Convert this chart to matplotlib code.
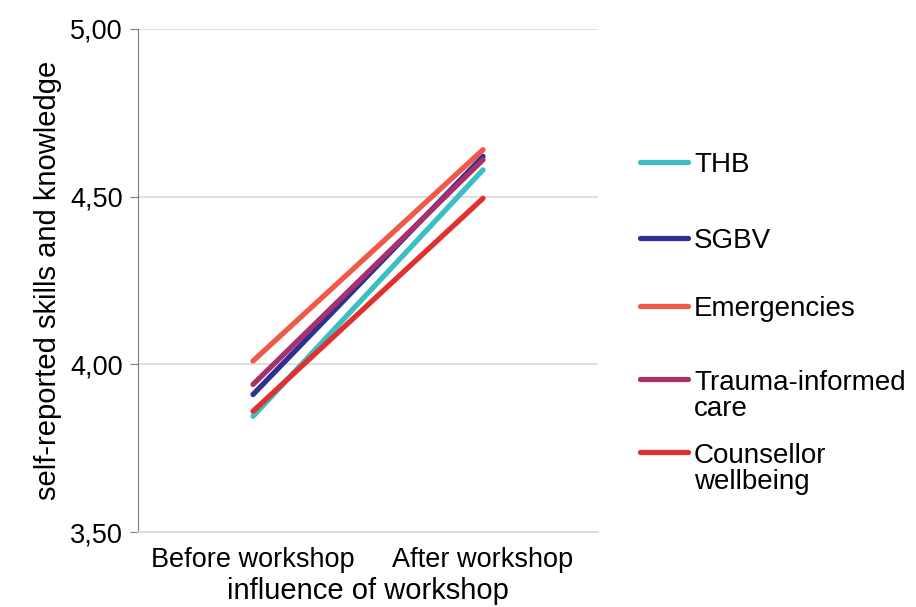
import matplotlib.pyplot as plt
from matplotlib.lines import Line2D

plt.rcParams['font.family'] = ['Liberation Sans', 'DejaVu Sans']

categories = ["Before workshop", "After workshop"]
series = ["THB", "SGBV", "Emergencies", "Trauma-informed\ncare", "Counsellor\nwellbeing"]
thb = [3.845, 4.58]
sgbv = [3.91, 4.62]
emergencies = [4.01, 4.64]
trauma = [3.94, 4.61]
counsellor = [3.86, 4.495]
colors = ["#3bbfc4", "#2e3192", "#f0584a", "#a8316c", "#e03030"]

W, H = 916, 607
fig = plt.figure(figsize=(W / 100, H / 100), dpi=100)
ax = fig.add_axes([138 / W, 75 / H, 460 / W, 503 / H])

x = [0.5, 1.5]
for vals, name, c in zip([thb, sgbv, emergencies, trauma, counsellor], series, colors):
    ax.plot(x, vals, color=c, lw=3.8, solid_capstyle='round', label=name, zorder=3)

ax.set_xlim(0, 2)
ax.set_ylim(3.5, 5.0)
ax.set_yticks([3.5, 4.0, 4.5, 5.0])
ax.set_yticklabels(["3,50", "4,00", "4,50", "5,00"])
ax.set_xticks(x)
ax.set_xticklabels(categories)
ax.tick_params(axis='x', length=0, labelsize=19.5, pad=11)
ax.tick_params(axis='y', length=6, color='#7f7f7f', labelsize=19.5, pad=5)
ax.grid(axis='y', color='#d9d9d9', lw=1.2, zorder=0)
for s in ['top', 'right']:
    ax.spines[s].set_visible(False)
ax.spines['left'].set_color('#7f7f7f')
ax.spines['bottom'].set_color('#d9d9d9')
ax.spines['bottom'].set_linewidth(1.2)

ax.set_xlabel("influence of workshop", fontsize=21, labelpad=3)
ax.set_ylabel("self-reported skills and knowledge", fontsize=21, labelpad=6)

# legend drawn by hand so the key sits on the first text line, as in the original
leg_y = [162, 238, 306, 379, 452]
line_px = 27
for name, c, yy in zip(series, colors, leg_y):
    yf = 1 - yy / H
    fig.add_artist(Line2D([640 / W, 688 / W], [yf, yf], color=c, lw=3.8,
                          solid_capstyle='round', transform=fig.transFigure))
    n = name.count("\n")
    fig.text(694 / W, yf - (10 + n * line_px) / H, name, fontsize=20,
             va='baseline', ha='left', linespacing=0.98)

fig.savefig("out.png", dpi=100)
